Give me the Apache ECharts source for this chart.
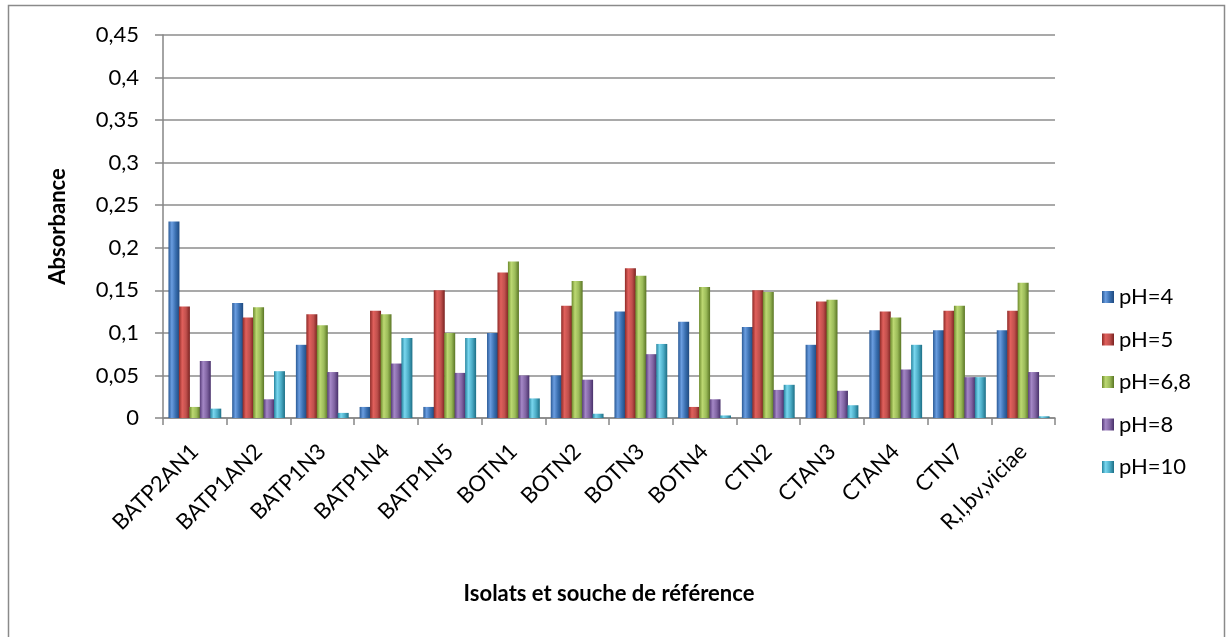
<!DOCTYPE html>
<html>
<head>
<meta charset="utf-8">
<script src="https://cdn.jsdelivr.net/npm/echarts@6/dist/echarts.min.js"></script>
<style>
html,body{margin:0;padding:0;background:#fff;}
#chart{width:1231px;height:637px;}
</style>
</head>
<body>
<div id="chart"></div>
<script>
const categories = ['BATP2AN1','BATP1AN2','BATP1N3','BATP1N4','BATP1N5','BOTN1','BOTN2','BOTN3','BOTN4','CTN2','CTAN3','CTAN4','CTN7','R,l,bv,viciae'];
const seriesNames = ['pH=4','pH=5','pH=6,8','pH=8','pH=10'];
const ph4  = [0.231,0.135,0.086,0.013,0.013,0.100,0.050,0.125,0.113,0.107,0.086,0.103,0.103,0.103];
const ph5  = [0.131,0.118,0.122,0.126,0.150,0.171,0.132,0.176,0.013,0.150,0.137,0.125,0.126,0.126];
const ph68 = [0.013,0.130,0.109,0.122,0.100,0.184,0.161,0.167,0.154,0.148,0.139,0.118,0.132,0.159];
const ph8  = [0.067,0.022,0.054,0.064,0.053,0.050,0.045,0.075,0.022,0.033,0.032,0.057,0.048,0.054];
const ph10 = [0.011,0.055,0.006,0.094,0.094,0.023,0.005,0.087,0.003,0.039,0.015,0.086,0.048,0.002];
const yTicks = [0,0.05,0.1,0.15,0.2,0.25,0.3,0.35,0.4,0.45];

const palettes = [
  ['#2a5a96','#6a9de0','#3a6fb0','#1f4a80'],
  ['#8e2a27','#e0605c','#c0504d','#7a2220'],
  ['#6c8a2c','#bcd872','#9bbb59','#5a7524'],
  ['#563b78','#a487c6','#8064a2','#48306a'],
  ['#25849e','#79d6ee','#4bacc6','#1d6f86']
];
function grad(p){
  return new echarts.graphic.LinearGradient(0,0,1,0,[
    {offset:0,color:p[0]},{offset:0.3,color:p[1]},{offset:0.65,color:p[2]},{offset:1,color:p[3]}
  ]);
}
const allData = [ph4,ph5,ph68,ph8,ph10];
const FONT = 'Lato';
const chart = echarts.init(document.getElementById('chart'));
chart.setOption({
  animation:false,
  backgroundColor:'#fff',
  textStyle:{fontFamily:FONT},
  graphic:[{type:'rect',shape:{x:8.5,y:5.5,width:1216,height:640},style:{fill:'none',stroke:'#8a8a8a',lineWidth:1.5},z:-1}],
  grid:{left:163,right:176,top:35,bottom:219,containLabel:false},
  legend:{
    orient:'vertical',left:1097,top:281,itemWidth:12,itemHeight:12,itemGap:20.5,
    data:seriesNames,
    textStyle:{fontFamily:FONT,fontSize:22,color:'#000',lineHeight:22},
    icon:'rect'
  },
  xAxis:{
    type:'category',data:categories,
    axisLine:{lineStyle:{color:'#868686',width:1.5}},
    axisTick:{show:true,length:7,alignWithLabel:false,lineStyle:{color:'#868686',width:1.5}},
    axisLabel:{rotate:45,fontFamily:FONT,fontSize:22,color:'#000',margin:30,interval:0},
    name:'Isolats et souche de référence',nameLocation:'middle',nameGap:165,
    nameTextStyle:{fontFamily:FONT,fontSize:22,fontWeight:'bold',color:'#000'}
  },
  yAxis:{
    type:'value',min:0,max:0.45,interval:0.05,
    axisLine:{show:true,lineStyle:{color:'#868686',width:1.5}},
    axisTick:{show:true,length:8,lineStyle:{color:'#868686',width:1.5}},
    splitLine:{lineStyle:{color:'#8c8c8c',width:1.5}},
    axisLabel:{fontFamily:FONT,fontSize:22,color:'#000',margin:24,
      formatter:function(v){ return String(Math.round(v*100)/100).replace('.',','); }},
    name:'Absorbance',nameLocation:'middle',nameGap:94,
    nameTextStyle:{fontFamily:FONT,fontSize:22,fontWeight:'bold',color:'#000'}
  },
  series: seriesNames.map(function(n,i){
    return {
      name:n,type:'bar',data:allData[i],barWidth:11,barGap:'-5%',barCategoryGap:'18%',
      itemStyle:{color:grad(palettes[i])}
    };
  })
});
</script>
</body>
</html>
